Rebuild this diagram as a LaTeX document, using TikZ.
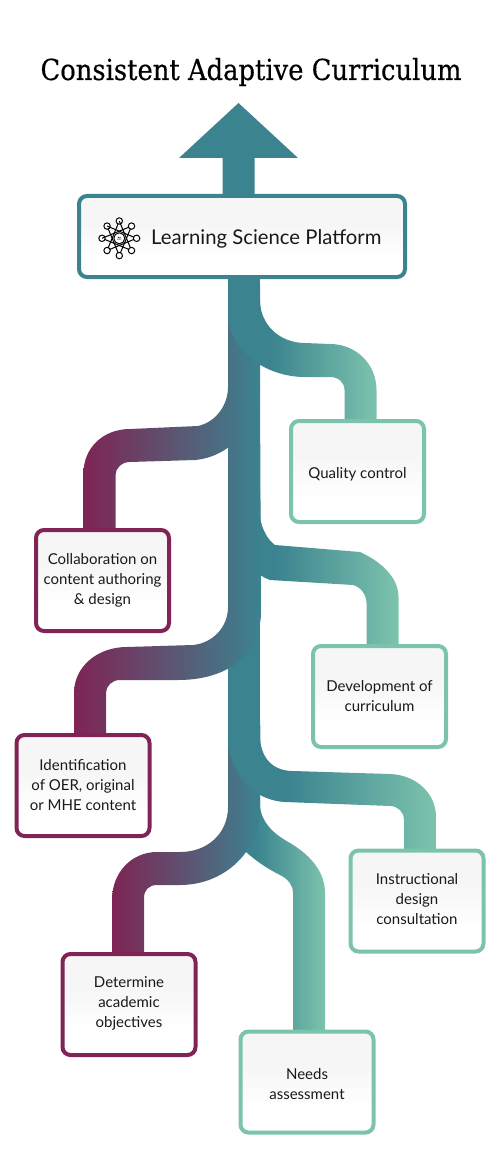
\documentclass[tikz,border=0pt]{standalone}
\usepackage{fontspec}
\setmainfont{Lato}
\newfontfamily\titlefont[FakeStretch=0.89,FakeBold=0.4]{DejaVu Serif}
\definecolor{plum}{HTML}{7F2454}
\definecolor{tealc}{HTML}{3B838F}
\definecolor{mint}{HTML}{7CC3AD}
\definecolor{boxtop}{HTML}{F6F6F6}
\pgfdeclareverticalshading{boxshade}{100bp}{color(0bp)=(white); color(37bp)=(white); color(58bp)=(boxtop); color(100bp)=(boxtop)}
\pgfdeclarehorizontalshading{tealtomint}{100bp}{color(0bp)=(tealc); color(39bp)=(tealc); color(75bp)=(mint); color(100bp)=(mint)}
\tikzset{
  panel/.style={shade,shading=boxshade,rounded corners=8pt,line width=4pt,minimum width=133pt,minimum height=101pt,inner sep=0pt},
  plumbox/.style={panel,draw=plum},
  mintbox/.style={panel,draw=mint},
  boxtext/.style={inner sep=0pt,align=center,font=\fontsize{15}{20}\selectfont,text=black!90},
  tolr/.style={shading=tealtomint},
  torl/.style={left color=plum,right color=tealc},
}
\begin{document}
\begin{tikzpicture}[x=1pt,y=-1pt]
\useasboundingbox (0,0) rectangle (500,1169);
\node[font=\titlefont\fontsize{29}{32}\selectfont,anchor=base,inner sep=0pt] (title) at (251,80) {Consistent Adaptive Curriculum};
% arrow and trunk
\fill[tealc] (238.5,103) -- (298,158) -- (254.5,158) -- (254.5,198) -- (222.5,198) -- (222.5,158) -- (179,158) -- cycle;
\fill[tealc] (228,275) rectangle (260,815);
% lower branches
\shade[tolr] (228,725) -- (260,725) -- (260,807) .. controls (262,822) and (272,833) .. (290,843) .. controls (312,856) and (325,873) .. (325,893) -- (325,1031) -- (293,1031) -- (293,893) .. controls (293,885) and (288,879) .. (280,875) .. controls (266,868) and (255,860) .. (246,852) -- (228,830) -- cycle;
\shade[torl] (228,725) -- (260,725) -- (260,815) .. controls (256,855) and (222,885) .. (180,885) -- (157,885) .. controls (149,885) and (144,890) .. (144,898) -- (144,953) -- (112,953) -- (112,900) .. controls (112,872) and (132,852) .. (157,852) -- (180,852) .. controls (208,852) and (228,833) .. (228,807) -- cycle;
\shade[tolr] (228,720) -- (260,720) -- (260,735) .. controls (260,757) and (272,771) .. (293,771) -- (390,774) .. controls (416,775) and (436,793) .. (436,817) -- (436,851) -- (404,851) -- (404,820) .. controls (404,812) and (398,806) .. (390,806) -- (285,802) .. controls (250,800) and (228,770) .. (228,735) -- cycle;
% middle and upper branches
\shade[tolr] (228,490) -- (260,490) -- (260,517) .. controls (262,530) and (268,540) .. (275,545) -- (360,552) .. controls (382,562) and (398.5,578) .. (398.5,597) -- (398.5,646) -- (366.5,646) -- (366.5,603) .. controls (366.5,595) and (361,587) .. (353,585) -- (270,580) .. controls (248,572) and (228,545) .. (228,517) -- cycle;
\shade[torl] (228,388) -- (260,388) -- (261,615) .. controls (258,660) and (222,680) .. (178,680) -- (120,680) .. controls (112,680) and (106,686) .. (106,693) -- (106,735) -- (74,735) -- (74,693) .. controls (74,667) and (97,647) .. (127,647) -- (193,645) .. controls (213,643) and (228,627) .. (228,607) -- cycle;
\shade[torl] (228,300) -- (260,300) -- (260,390) .. controls (255,430) and (228,457) .. (195,460) -- (130,462) .. controls (122,462) and (115.5,468) .. (115.5,475) -- (115.5,530) -- (83.5,530) -- (83.5,473) .. controls (83.5,448) and (103,429) .. (130,429) -- (198,426) .. controls (216,422) and (228,405) .. (228,387) -- cycle;
\shade[tolr] (228,285) -- (260,285) -- (260,300) .. controls (260,325) and (280,343) .. (305,343) -- (330,344) .. controls (356,344) and (376.5,364) .. (376.5,390) -- (376.5,421) -- (344.5,421) -- (344.5,390) .. controls (344.5,382) and (338,377) .. (330,377) -- (305,377) .. controls (265,377) and (228,350) .. (228,313) -- cycle;
% boxes
\node[panel,draw=tealc,minimum width=326pt,minimum height=81pt] (lsp) at (242,236.5) {};
\node[anchor=base west,inner sep=0pt,font=\fontsize{20.3}{24}\selectfont,text=black!90] (lsplabel) at (151,244) {Learning Science Platform};
\node[mintbox] (quality) at (357.5,471.5) {};
\node[boxtext] (qualitytext) at ([yshift=-3pt]quality.center) {Quality control};
\node[plumbox] (collab) at (102.5,580.5) {};
\node[boxtext] (collabtext) at (collab.center) {Collaboration on\\content authoring\\\& design};
\node[mintbox] (devel) at (379.5,696.5) {};
\node[boxtext] (develtext) at (devel.center) {Development of\\curriculum};
\node[plumbox] (ident) at (83,785.5) {};
\node[boxtext] (identtext) at (ident.center) {Identification\\of OER, original\\or MHE content};
\node[mintbox] (instr) at (417,901) {};
\node[boxtext] (instrtext) at ([yshift=2pt]instr.center) {Instructional\\design\\consultation};
\node[plumbox] (determ) at (129,1004.5) {};
\node[boxtext] (determtext) at ([yshift=1pt]determ.center) {Determine\\academic\\objectives};
\node[mintbox] (needs) at (307,1082) {};
\node[boxtext] (needstext) at ([yshift=-2.5pt]needs.center) {Needs\\assessment};
% platform icon
\begin{scope}[shift={(119.3,238.3)},line width=1pt,black]
  \foreach \i in {0,...,7}{\coordinate (ic\i) at ({90+45*\i}:17.3pt);}
  \foreach \i in {0,...,7}{
    \pgfmathtruncatemacro{\j}{mod(\i+3,8)}
    \draw (ic\i) -- (ic\j);
    \draw[fill=white] (ic\i) circle[radius=3.2pt];
  }
  \draw[fill=white] (0,0) circle[radius=5.5pt];
  \fill (-1.6pt,-0.8pt) circle[radius=0.55pt] (0pt,-0.8pt) circle[radius=0.55pt] (1.6pt,-0.8pt) circle[radius=0.55pt] (-0.8pt,0.8pt) circle[radius=0.55pt] (0.8pt,0.8pt) circle[radius=0.55pt];
\end{scope}
\end{tikzpicture}
\end{document}
